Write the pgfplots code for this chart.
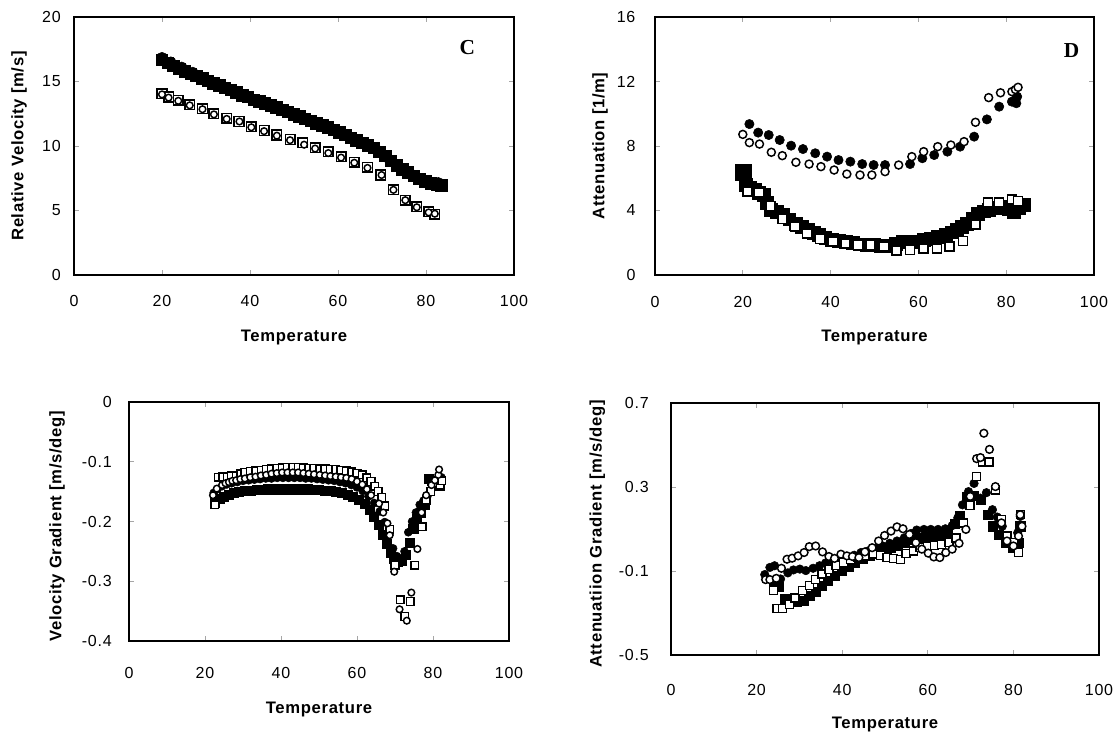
\documentclass[border=0pt]{standalone}
\usepackage{pgfplots}
\pgfplotsset{compat=1.18}
\usepackage{fontspec}
\setmainfont{Liberation Sans}
\newfontfamily\tickfont[LetterSpace=5]{Liberation Sans}
\newfontfamily\labfont[LetterSpace=4]{Liberation Sans}
\newfontfamily\panelfont{Liberation Serif}
\newcommand{\tf}{\tickfont\fontsize{12}{14}\selectfont}
\newcommand{\lf}{\labfont\bfseries\fontsize{12.5}{15}\selectfont}
\pgfplotsset{
  base/.style={
    scale only axis, anchor=south west, xmin=0, xmax=100,
    axis line style={line width=1.3pt},
    tick align=inside, major tick length=3.75pt,
    tick style={draw=gray!70, line width=0.6pt},
    xtick={0,20,40,60,80,100}, xticklabels={0,20,40,60,80,100},
    xlabel={Temperature},
    clip=false,
  },
  fsq/.style={only marks, mark=square*, mark options={fill=black, draw=black, line width=0.4pt}},
  fci/.style={only marks, mark=*, mark options={fill=black, draw=black, line width=0.4pt}},
  osq/.style={only marks, mark=square*, mark options={fill=white, draw=black, line width=1.1pt}},
  oci/.style={only marks, mark=*, mark options={fill=white, draw=black, line width=1.1pt}},
}
\begin{document}
\begin{tikzpicture}
\path[use as bounding box] (0,0) rectangle (835.5pt,549pt);

% ---------------- Panel C ----------------
\begin{axis}[base, at={(55.5pt,342.75pt)}, width=330pt, height=193.5pt,
  ymin=0, ymax=20, ytick={0,5,10,15,20}, yticklabels={0,5,10,15,20},
  xticklabel style={font=\tf, anchor=base, yshift=-24pt},
  yticklabel style={font=\tf, anchor=east, inner sep=0pt, xshift=-9.75pt},
  ylabel={Relative Velocity [m/s]},
  every axis y label/.style={font=\lf, at={(axis description cs:-0.125,0.5)}, rotate=90, anchor=center},
  every axis x label/.style={font=\lf, at={(axis description cs:0.5,0)}, anchor=base, yshift=-50.25pt},
]
\addplot[fsq, mark size=4.3pt] table {
20.0 16.7
21.3 16.45
22.6 16.2
23.9 16.0
25.2 15.8
26.5 15.6
27.8 15.45
29.1 15.25
30.4 15.05
31.7 14.85
33.0 14.7
34.3 14.5
35.6 14.35
36.9 14.15
38.2 13.95
39.5 13.8
40.8 13.6
42.1 13.45
43.4 13.3
44.7 13.15
46.0 13.0
47.3 12.8
48.6 12.65
49.9 12.45
51.2 12.3
52.5 12.1
53.8 11.95
55.1 11.75
56.4 11.6
57.7 11.45
59.0 11.25
60.3 11.05
61.6 10.85
62.9 10.65
64.2 10.45
65.5 10.25
66.8 10.05
68.1 9.85
69.4 9.55
70.7 9.25
72.0 8.85
73.3 8.5
74.6 8.2
75.9 7.95
77.2 7.7
78.5 7.45
79.8 7.25
81.1 7.1
82.4 7.0
83.5 6.95
};
\addplot[fci, mark size=4pt] table {
20.0 16.85
22.0 16.5
24.5 16.1
27.0 15.7
29.6 15.2
32.2 14.8
34.8 14.45
37.4 14.1
40.0 13.7
42.6 13.4
45.2 13.1
47.8 12.75
50.4 12.4
53.0 12.05
55.6 11.7
58.2 11.35
60.8 10.95
63.4 10.6
66.0 10.2
68.6 9.75
71.2 9.1
73.8 8.4
76.4 7.85
79.0 7.35
81.6 7.05
82.8 7.15
};
\addplot[osq, mark size=3.6pt] table {
20.0 14.05
21.5 13.8
23.7 13.55
26.3 13.2
29.2 12.9
31.8 12.5
34.7 12.15
37.5 11.9
40.3 11.5
43.2 11.2
46.1 10.85
49.1 10.5
52.0 10.25
54.8 9.85
57.8 9.55
60.7 9.15
63.7 8.75
66.7 8.35
69.7 7.75
72.6 6.6
75.3 5.8
77.9 5.3
80.6 4.9
82.0 4.7
};
\addplot[oci, mark size=2.5pt] table {
20.0 14.0
21.5 13.75
23.7 13.5
26.3 13.15
29.2 12.85
31.8 12.45
34.7 12.1
37.6 11.9
40.3 11.45
43.2 11.15
46.1 10.8
49.1 10.45
52.3 10.1
54.8 9.8
57.8 9.45
60.7 9.1
63.7 8.7
66.7 8.3
69.9 7.75
72.6 6.6
75.3 5.8
77.9 5.25
80.6 4.85
82.0 4.75
};
\node[font=\panelfont\bfseries\fontsize{16}{18}\selectfont] at (axis cs:89.4,17.6) {C};
\end{axis}

% ---------------- Panel D ----------------
\begin{axis}[base, at={(491.25pt,342.75pt)}, width=329.25pt, height=193.5pt,
  ymin=0, ymax=16, ytick={0,4,8,12,16}, yticklabels={0,4,8,12,16},
  xticklabel style={font=\tf, anchor=base, yshift=-24.75pt},
  yticklabel style={font=\tf, anchor=east, inner sep=0pt, xshift=-14.5pt},
  ylabel={Attenuation [1/m]},
  every axis y label/.style={font=\lf, at={(axis description cs:-0.125,0.5)}, rotate=90, anchor=center},
  every axis x label/.style={font=\lf, at={(axis description cs:0.5,0)}, anchor=base, yshift=-50.25pt},
]
\addplot[fsq, mark size=6pt] table {
20.0 6.35
};
\addplot[fsq, mark size=4.8pt] table {
20.7 5.58
21.7 5.40
22.7 5.27
23.7 5.10
24.7 4.96
25.5 4.50
26.3 4.03
27.7 3.90
29.2 3.72
30.6 3.45
32.0 3.20
33.5 3.00
34.9 2.79
36.1 2.63
37.3 2.48
38.8 2.30
40.2 2.17
41.8 2.10
43.4 2.07
45.0 1.98
46.7 1.90
48.3 1.88
49.9 1.86
51.5 1.83
53.2 1.80
54.8 1.95
56.5 2.07
58.1 2.07
59.7 2.07
61.3 2.17
62.9 2.27
64.5 2.37
66.2 2.48
67.5 2.65
68.7 2.79
69.9 3.00
71.1 3.20
72.3 3.50
73.6 3.82
74.8 3.95
76.0 4.03
77.6 4.15
79.3 4.24
80.5 4.10
81.7 3.93
82.9 4.15
84.1 4.34
};
\addplot[osq, mark size=3.4pt] table {
21.1 5.17
23.7 5.11
26.3 4.28
29.0 3.47
31.9 3.00
34.6 2.58
37.6 2.25
40.6 2.07
43.4 1.96
46.3 1.86
49.1 1.86
52.2 1.76
55.0 1.51
58.1 1.55
61.2 1.65
64.2 1.65
67.1 1.76
70.2 2.11
73.0 3.14
75.8 4.49
78.4 4.49
81.3 4.69
82.7 4.59
};
\addplot[fci, mark size=3.5pt] table {
21.5 9.36
23.5 8.83
25.9 8.68
28.4 8.37
31.0 8.02
33.7 7.81
36.5 7.55
39.2 7.34
41.8 7.13
44.5 7.03
47.2 6.88
49.8 6.82
52.4 6.82
58.1 6.88
60.9 7.24
63.6 7.44
66.6 7.65
69.5 7.96
72.7 8.58
75.6 9.65
78.4 10.44
81.3 10.75
82.3 10.65
82.1 10.85
82.5 11.06
};
\addplot[oci, mark size=3pt] table {
20.0 8.72
21.5 8.21
23.8 8.12
26.5 7.61
29.0 7.40
32.1 6.99
35.1 6.88
37.8 6.72
40.8 6.51
43.7 6.26
46.7 6.20
49.4 6.20
52.4 6.41
55.5 6.82
58.5 7.34
61.2 7.65
64.4 7.96
67.4 8.06
70.4 8.27
73.0 9.47
76.0 11.0
78.7 11.3
81.3 11.37
82.1 11.5
82.7 11.64
};
\node[font=\panelfont\bfseries\fontsize{16}{18}\selectfont] at (axis cs:94.9,13.95) {D};
\end{axis}

% ---------------- Panel E ----------------
\begin{axis}[base, at={(96.75pt,68.25pt)}, width=285pt, height=179.25pt,
  ymin=-0.4, ymax=0, ytick={-0.4,-0.3,-0.2,-0.1,0}, yticklabels={-0.4,-0.3,-0.2,-0.1,0},
  xticklabel style={font=\tf, anchor=base, yshift=-27.75pt},
  yticklabel style={font=\tf, anchor=east, inner sep=0pt, xshift=-12.75pt},
  ylabel={Velocity Gradient [m/s/deg]},
  every axis y label/.style={font=\lf, at={(axis description cs:-0.189,0.48)}, rotate=90, anchor=center},
  every axis x label/.style={font=\lf, at={(axis description cs:0.5,0)}, anchor=base, yshift=-54pt},
]
\addplot[fsq, mark size=3.4pt] table {
22.6 -0.168
23.8 -0.162
25.0 -0.158
26.3 -0.155
27.6 -0.152
29.0 -0.150
30.5 -0.149
32.0 -0.148
33.5 -0.147
35.0 -0.147
36.5 -0.146
38.0 -0.146
39.5 -0.146
41.0 -0.146
42.5 -0.146
44.0 -0.146
45.5 -0.146
47.0 -0.146
48.5 -0.147
50.0 -0.147
51.5 -0.148
53.0 -0.149
54.5 -0.150
56.0 -0.152
57.5 -0.155
59.0 -0.159
60.5 -0.164
62.0 -0.171
63.3 -0.180
64.5 -0.192
65.7 -0.206
66.8 -0.222
67.8 -0.238
68.8 -0.252
69.8 -0.262
70.8 -0.267
71.8 -0.265
72.8 -0.255
73.8 -0.235
74.8 -0.212
75.8 -0.196
76.8 -0.186
77.8 -0.172
78.8 -0.128
79.8 -0.132
80.8 -0.138
81.8 -0.140
};
\addplot[fci, mark size=3pt] table {
22.3 -0.152
23.3 -0.146
24.5 -0.141
25.7 -0.138
27.0 -0.136
28.5 -0.134
30.0 -0.132
31.5 -0.131
33.0 -0.130
34.5 -0.129
36.0 -0.128
37.5 -0.128
39.0 -0.127
40.5 -0.127
42.0 -0.127
43.5 -0.127
45.0 -0.127
46.5 -0.128
48.0 -0.128
49.5 -0.129
51.0 -0.130
52.5 -0.131
54.0 -0.132
55.5 -0.134
57.0 -0.136
58.5 -0.139
60.0 -0.143
61.5 -0.149
63.0 -0.158
64.5 -0.169
66.0 -0.183
67.3 -0.201
68.5 -0.222
69.5 -0.245
70.5 -0.258
71.5 -0.262
72.5 -0.250
73.5 -0.218
74.5 -0.200
75.5 -0.185
76.5 -0.172
77.5 -0.165
78.5 -0.158
79.5 -0.148
80.5 -0.140
81.5 -0.132
82.2 -0.126
};
\addplot[osq, mark size=2.9pt] table {
22.6 -0.172
23.5 -0.126
24.7 -0.125
25.9 -0.125
27.0 -0.124
28.2 -0.124
29.4 -0.120
30.5 -0.118
32.0 -0.116
33.4 -0.115
34.8 -0.114
36.1 -0.113
37.5 -0.112
38.9 -0.111
40.3 -0.110
41.7 -0.109
43.1 -0.109
44.5 -0.109
45.9 -0.110
47.3 -0.111
48.7 -0.111
50.2 -0.112
51.6 -0.112
53.0 -0.113
54.4 -0.113
55.8 -0.114
57.2 -0.115
58.6 -0.117
60.0 -0.119
61.4 -0.122
62.6 -0.127
63.7 -0.133
64.7 -0.141
65.6 -0.150
66.5 -0.160
67.3 -0.174
68.6 -0.213
70.0 -0.273
71.4 -0.331
72.6 -0.359
74.0 -0.334
75.2 -0.273
77.1 -0.209
78.2 -0.164
79.4 -0.150
80.5 -0.136
81.9 -0.139
82.3 -0.132
};
\addplot[oci, mark size=2.5pt] table {
22.1 -0.156
23.1 -0.145
24.5 -0.139
25.4 -0.136
26.3 -0.134
27.2 -0.132
28.2 -0.131
29.3 -0.129
30.5 -0.128
31.9 -0.126
33.3 -0.125
34.7 -0.123
36.1 -0.122
37.5 -0.120
38.9 -0.119
40.3 -0.118
41.7 -0.118
43.1 -0.118
44.5 -0.118
45.9 -0.119
47.3 -0.120
48.7 -0.121
50.2 -0.122
51.6 -0.123
53.0 -0.124
54.4 -0.125
55.8 -0.126
57.2 -0.127
58.6 -0.129
60.0 -0.133
61.4 -0.138
62.6 -0.146
63.7 -0.156
65.8 -0.170
66.9 -0.185
68.0 -0.203
68.6 -0.223
69.8 -0.284
71.2 -0.347
73.1 -0.366
74.3 -0.319
75.9 -0.246
77.0 -0.185
78.2 -0.156
79.6 -0.139
80.5 -0.131
81.4 -0.122
81.6 -0.113
};
\end{axis}

% ---------------- Panel F ----------------
\begin{axis}[base, at={(503.25pt,57.75pt)}, width=321pt, height=189pt,
  ymin=-0.5, ymax=0.7, ytick={-0.5,-0.1,0.3,0.7}, yticklabels={-0.5,-0.1,0.3,0.7},
  xticklabel style={font=\tf, anchor=base, yshift=-30pt},
  yticklabel style={font=\tf, anchor=east, inner sep=0pt, xshift=-16.5pt},
  ylabel={Attenuatiion Gradient [m/s/deg]},
  every axis y label/.style={font=\lf, at={(axis description cs:-0.172,0.48)}, rotate=90, anchor=center},
  every axis x label/.style={font=\lf, at={(axis description cs:0.5,0)}, anchor=base, yshift=-54.75pt},
]
\addplot[fsq, mark size=3.4pt] table {
24.0 -0.169
25.2 -0.177
26.5 -0.232
28.0 -0.240
29.4 -0.247
31.1 -0.240
32.3 -0.216
33.8 -0.200
35.3 -0.172
36.7 -0.146
38.2 -0.122
39.9 -0.098
41.5 -0.078
43.0 -0.059
44.7 -0.040
46.4 -0.025
48.0 -0.009
49.7 0.003
51.4 0.011
53.0 0.019
54.7 0.035
56.4 0.051
58.1 0.058
59.7 0.063
61.4 0.066
63.1 0.071
64.7 0.082
66.2 0.126
67.4 0.164
69.1 0.255
70.8 0.258
72.4 0.239
73.9 0.168
75.1 0.113
76.6 0.074
78.3 0.035
79.8 0.011
81.2 0.035
81.6 0.113
};
\addplot[fci, mark size=3.2pt] table {
21.9 -0.117
23.1 -0.083
24.2 -0.075
25.6 -0.138
27.3 -0.109
28.6 -0.095
30.1 -0.091
31.5 -0.098
33.2 -0.087
34.7 -0.075
36.1 -0.062
37.8 -0.056
39.4 -0.044
41.1 -0.031
42.8 -0.025
44.4 -0.012
46.1 -0.004
47.8 0.007
49.5 0.019
51.1 0.032
52.8 0.043
54.5 0.058
56.1 0.079
57.4 0.095
59.1 0.098
60.7 0.098
62.4 0.098
64.1 0.101
65.7 0.116
67.0 0.153
68.1 0.215
69.5 0.278
70.8 0.317
72.3 0.247
73.7 0.273
75.1 0.192
76.2 0.157
77.4 0.113
78.7 0.054
80.0 0.035
81.0 0.082
81.6 0.160
};
\addplot[osq, mark size=3pt] table {
24.0 -0.193
24.8 -0.279
26.1 -0.279
27.7 -0.260
29.0 -0.229
30.7 -0.193
32.3 -0.169
33.8 -0.141
35.3 -0.114
36.9 -0.094
38.6 -0.075
40.3 -0.059
41.9 -0.044
43.6 -0.033
45.3 -0.025
47.2 -0.020
49.0 -0.025
50.5 -0.036
52.0 -0.040
53.6 -0.044
54.9 -0.017
56.6 -0.004
58.2 0.011
59.9 0.019
61.6 0.022
63.2 0.027
64.9 0.035
66.6 0.058
68.3 0.129
69.9 0.211
71.4 0.349
72.8 0.419
74.3 0.419
75.8 0.286
77.2 0.145
78.5 0.066
80.0 0.035
81.2 -0.012
81.6 0.168
};
\addplot[oci, mark size=2.9pt] table {
22.1 -0.141
23.1 -0.141
24.6 -0.135
25.8 -0.087
27.1 -0.044
28.3 -0.039
29.7 -0.028
31.1 -0.012
32.3 0.016
33.8 0.019
35.4 -0.009
36.9 -0.031
38.2 -0.040
39.7 -0.020
41.1 -0.028
42.4 -0.031
43.9 -0.036
45.3 -0.009
47.0 0.011
48.5 0.043
49.9 0.069
51.4 0.090
52.8 0.110
54.2 0.101
55.7 0.074
57.2 0.035
58.6 0.004
60.1 -0.015
61.4 -0.033
62.8 -0.036
64.2 -0.012
65.7 0.004
67.3 0.032
68.9 0.098
69.9 0.255
71.4 0.435
72.3 0.440
73.1 0.556
74.4 0.479
75.8 0.302
77.2 0.129
78.5 0.043
80.0 0.019
81.2 0.066
81.6 0.168
82.0 0.113
};
\end{axis}
\end{tikzpicture}
\end{document}
